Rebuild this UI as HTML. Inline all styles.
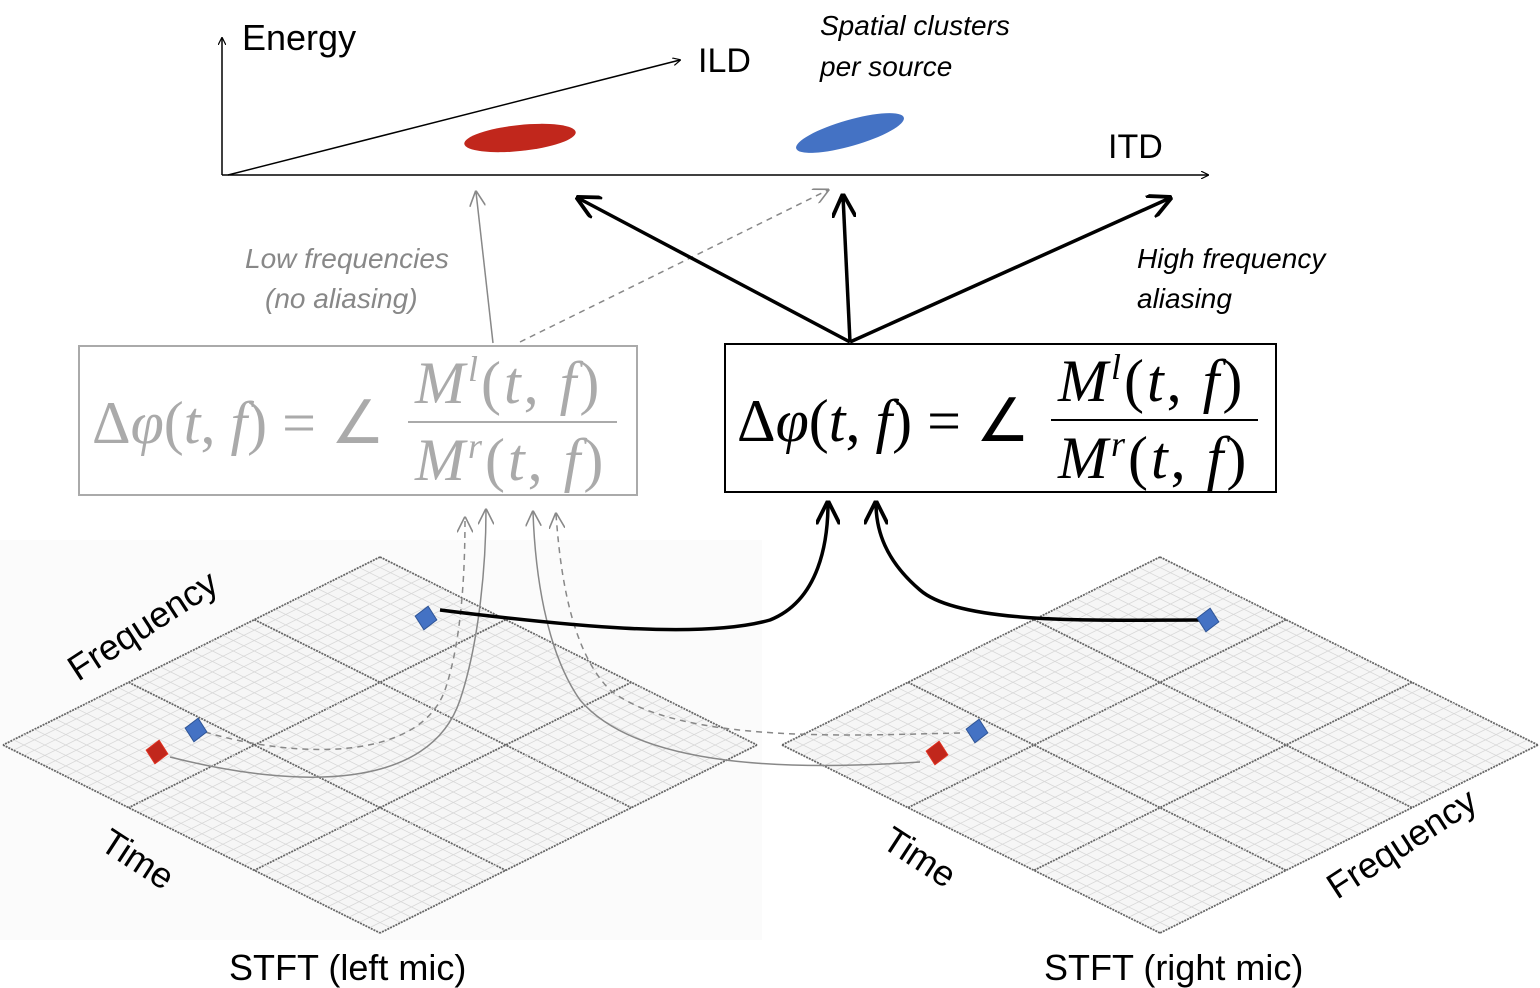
<!DOCTYPE html>
<html><head><meta charset="utf-8"><style>
html,body{margin:0;padding:0;background:#fff}
svg{display:block}
text{font-family:"Liberation Sans",sans-serif}
.m{font-family:"Liberation Serif",serif}
</style></head><body>
<svg id="s" width="1540" height="988" viewBox="0 0 1540 988">
<defs>
<marker id="ah" viewBox="0 0 10 10" refX="9" refY="5" markerWidth="8" markerHeight="8" orient="auto-start-reverse" markerUnits="userSpaceOnUse"><path d="M0,0 L10,5 L0,10" fill="none" stroke="#000" stroke-width="1.5"/></marker>
<marker id="ahb" viewBox="0 0 10 10" refX="9" refY="5" markerWidth="24" markerHeight="24" orient="auto" markerUnits="userSpaceOnUse"><path d="M0,0 L10,5 L0,10" fill="none" stroke="#000" stroke-width="1.6"/></marker>
<marker id="ahg" viewBox="0 0 10 10" refX="9" refY="5" markerWidth="16" markerHeight="16" orient="auto" markerUnits="userSpaceOnUse"><path d="M0,0 L10,5 L0,10" fill="none" stroke="#888" stroke-width="1"/></marker>
</defs>
<rect x="0" y="540" width="762" height="400" fill="#fbfbfb"/>
<g id="grids"></g>

<g>
<line x1="222" y1="175" x2="222" y2="38" stroke="#000" stroke-width="1.5" marker-end="url(#ah)"/>
<line x1="222" y1="175" x2="1208" y2="175" stroke="#000" stroke-width="1.5" marker-end="url(#ah)"/>
<line x1="228" y1="175" x2="680" y2="60" stroke="#000" stroke-width="1.5" marker-end="url(#ah)"/>
<text x="242" y="50" font-size="36">Energy</text>
<text x="698" y="72" font-size="34">ILD</text>
<text x="1108" y="158" font-size="34">ITD</text>
<ellipse cx="520" cy="138" rx="56" ry="13" fill="#c1271c" transform="rotate(-6 520 138)"/>
<ellipse cx="850" cy="133" rx="56" ry="13" fill="#4472c4" transform="rotate(-16 850 133)"/>
</g>
<text x="820" y="35" font-size="28" font-style="italic"><tspan x="820">Spatial clusters</tspan><tspan x="820" y="76">per source</tspan></text>
<text x="245" y="268" font-size="28" font-style="italic" fill="#888"><tspan x="245">Low frequencies</tspan><tspan x="265" y="308">(no aliasing)</tspan></text>
<text x="1137" y="268" font-size="28" font-style="italic"><tspan x="1137">High frequency</tspan><tspan x="1137" y="308">aliasing</tspan></text>

<line x1="493" y1="343" x2="476" y2="192" stroke="#888" stroke-width="1.5" marker-end="url(#ahg)"/>
<line x1="520" y1="342" x2="828" y2="190" stroke="#888" stroke-width="1.5" stroke-dasharray="6,5" marker-end="url(#ahg)"/>
<line x1="850" y1="342" x2="578" y2="198" stroke="#000" stroke-width="3.5" marker-end="url(#ahb)"/>
<line x1="850" y1="342" x2="843" y2="196" stroke="#000" stroke-width="3.5" marker-end="url(#ahb)"/>
<line x1="850" y1="342" x2="1170" y2="198" stroke="#000" stroke-width="3.5" marker-end="url(#ahb)"/>

<g fill="#aaa">
<rect x="79" y="346" width="558" height="149" fill="none" stroke="#aaa" stroke-width="2"/>
<text class="m" x="92" y="443" font-size="60"><tspan>Δ</tspan><tspan font-style="italic">φ</tspan><tspan>(</tspan><tspan font-style="italic">t</tspan><tspan>, </tspan><tspan font-style="italic">f</tspan><tspan>) = ∠</tspan></text>
<line x1="408" y1="422" x2="617" y2="422" stroke="#aaa" stroke-width="2"/>
<text class="m" x="415" y="403" font-size="60" letter-spacing="3"><tspan font-style="italic">M</tspan><tspan font-style="italic" font-size="36" dy="-22">l</tspan><tspan dy="22">(</tspan><tspan font-style="italic">t</tspan><tspan>, </tspan><tspan font-style="italic">f</tspan><tspan>)</tspan></text>
<text class="m" x="415" y="480" font-size="60" letter-spacing="3"><tspan font-style="italic">M</tspan><tspan font-style="italic" font-size="36" dy="-22">r</tspan><tspan dy="22">(</tspan><tspan font-style="italic">t</tspan><tspan>, </tspan><tspan font-style="italic">f</tspan><tspan>)</tspan></text>
</g>
<g fill="#000">
<rect x="725" y="344" width="551" height="148" fill="none" stroke="#000" stroke-width="2"/>
<text class="m" x="737" y="441" font-size="60"><tspan>Δ</tspan><tspan font-style="italic">φ</tspan><tspan>(</tspan><tspan font-style="italic">t</tspan><tspan>, </tspan><tspan font-style="italic">f</tspan><tspan>) = ∠</tspan></text>
<line x1="1051" y1="420" x2="1258" y2="420" stroke="#000" stroke-width="2"/>
<text class="m" x="1058" y="401" font-size="60" letter-spacing="3"><tspan font-style="italic">M</tspan><tspan font-style="italic" font-size="36" dy="-22">l</tspan><tspan dy="22">(</tspan><tspan font-style="italic">t</tspan><tspan>, </tspan><tspan font-style="italic">f</tspan><tspan>)</tspan></text>
<text class="m" x="1058" y="478" font-size="60" letter-spacing="3"><tspan font-style="italic">M</tspan><tspan font-style="italic" font-size="36" dy="-22">r</tspan><tspan dy="22">(</tspan><tspan font-style="italic">t</tspan><tspan>, </tspan><tspan font-style="italic">f</tspan><tspan>)</tspan></text>
</g>

<path d="M170,757 C300,790 430,790 460,700 C480,640 486,560 486,510" fill="none" stroke="#888" stroke-width="1.5" marker-end="url(#ahg)"/>
<path d="M205,732 C300,760 420,760 445,690 C462,640 465,570 465,518" fill="none" stroke="#888" stroke-width="1.5" stroke-dasharray="6,5" marker-end="url(#ahg)"/>
<path d="M920,762 C800,770 640,770 580,700 C545,650 535,570 533,512" fill="none" stroke="#888" stroke-width="1.5" marker-end="url(#ahg)"/>
<path d="M960,733 C860,735 680,745 610,690 C570,650 560,570 556,514" fill="none" stroke="#888" stroke-width="1.5" stroke-dasharray="6,5" marker-end="url(#ahg)"/>
<path d="M440,610 C560,625 700,640 770,620 C820,600 828,540 828,503" fill="none" stroke="#000" stroke-width="3.5" marker-end="url(#ahb)"/>
<path d="M1200,620 C1100,620 960,625 920,590 C885,560 876,530 876,503" fill="none" stroke="#000" stroke-width="3.5" marker-end="url(#ahb)"/>

<g id="markers"></g>

<text x="0" y="0" font-size="36" transform="translate(78,682) rotate(-33)">Frequency</text>
<text x="0" y="0" font-size="36" transform="translate(98,848) rotate(33)">Time</text>
<text x="0" y="0" font-size="36" transform="translate(880,846) rotate(33)">Time</text>
<text x="0" y="0" font-size="36" transform="translate(1337,900) rotate(-33)">Frequency</text>
<text x="229" y="980" font-size="36">STFT (left mic)</text>
<text x="1044" y="980" font-size="36">STFT (right mic)</text>
</svg>
<script>
const NS='http://www.w3.org/2000/svg';
const gridNames=['left-stft-grid','right-stft-grid'];
const gridTops=[[380,557],[1160,557]];
const gridHalfW=[377,378];
const gridHalfH=[188,188];
const markerNames=['left-blue-high','left-blue-low','left-red-low','right-blue-high','right-blue-low','right-red-low'];
const markerX=[426,196,157,1208,977,937];
const markerY=[618,730,752,620,731,753];
const markerColor=['#4472c4','#4472c4','#c1271c','#4472c4','#4472c4','#c1271c'];
const g=document.getElementById('grids');
for(let k=0;k<2;k++){
  const grp=document.createElementNS(NS,'g');
  
  
  const [tx,ty]=gridTops[k],w=gridHalfW[k],h=gridHalfH[k];
  const P=(u,v)=>[tx+u*w-v*w, ty+u*h+v*h];
  const poly=document.createElementNS(NS,'polygon');
  poly.setAttribute('points',[P(0,0),P(1,0),P(1,1),P(0,1)].map(p=>p.join(',')).join(' '));
  poly.setAttribute('fill','#f6f6f6');
  
  
  grp.appendChild(poly);
  const N=36;
  for(let i=0;i<=N;i++){
    const t=i/N, major=(i%12===0);
    for(const dir of [0,1]){
      const a=dir?P(t,0):P(0,t), b=dir?P(t,1):P(1,t);
      const l=document.createElementNS(NS,'line');
      l.setAttribute('x1',a[0]);l.setAttribute('y1',a[1]);l.setAttribute('x2',b[0]);l.setAttribute('y2',b[1]);
      l.setAttribute('stroke',major?'#666':'#d8d8d8');
      l.setAttribute('stroke-width',major?1.8:0.8);
      if(major) l.setAttribute('stroke-dasharray','2,1');
      
      
      grp.appendChild(l);
    }
  }
  g.appendChild(grp);
}
const mg=document.getElementById('markers');
for(let i=0;i<markerX.length;i++){
  const p=document.createElementNS(NS,'polygon');
  const x=markerX[i],y=markerY[i];
  p.setAttribute('points',`${x},${y-12} ${x+11},${y} ${x},${y+12} ${x-11},${y}`);
  p.setAttribute('fill',markerColor[i]);
  p.setAttribute('stroke',markerColor[i]==='#c1271c'?'#e03020':'#2f5597');
  p.setAttribute('stroke-width','1');
  p.setAttribute('transform',`rotate(10 ${x} ${y})`);
  
  
  mg.appendChild(p);
}
</script>
</body></html>
